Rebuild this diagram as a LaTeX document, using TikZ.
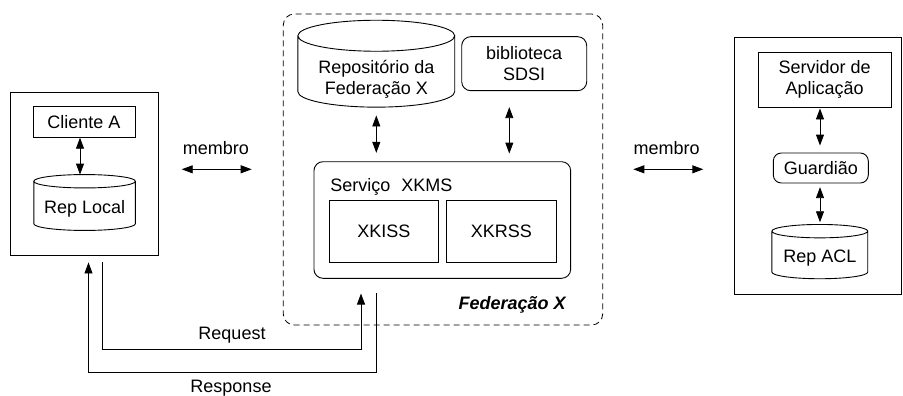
\documentclass[tikz,border=0pt]{standalone}
\usepackage{fontspec}
\setmainfont{Liberation Sans}
\usetikzlibrary{arrows.meta,calc}

% cylinder outline around a node that covers the visible body
% #1 node name, #2 half height of the end ellipses (pt)
\newcommand\cylout[2]{%
  \draw let \p1=(#1.north west), \p2=(#1.south east), \n1={(\x2-\x1)/2} in
    (\x1,\y1+#2pt) -- (\x1,\y2+#2pt)
    arc[start angle=180, end angle=360, x radius=\n1, y radius=#2pt]
    -- (\x2,\y1+#2pt)
    (\x1+\n1,\y1+#2pt) ellipse[x radius=\n1, y radius=#2pt];}

\begin{document}
\begin{tikzpicture}[x=1pt,y=1pt,
  line width=0.9pt,
  every node/.style={font=\fontsize{18}{21}\selectfont, inner sep=0pt},
  box/.style={draw, rectangle},
  rbox/.style={draw, rectangle, rounded corners=9pt},
  cylbody/.style={rectangle, align=center},
  tip/.style={-{Triangle[length=11pt,width=8pt]}},
  dtip/.style={{Triangle[length=11pt,width=8pt]}-{Triangle[length=11pt,width=8pt]}},
  fed/.style={draw, dash pattern=on 6pt off 4pt, rounded corners=11pt, line width=0.8pt}]
\useasboundingbox (0,0) rectangle (903,-396);

% ---- client side ----
\node[box, minimum width=148, minimum height=163] (lbox) at (84,-173.5) {};
\node[box, minimum width=102, minimum height=30.5] (cli) at (84,-122) {Cliente A};
\node[cylbody, minimum width=100.7, minimum height=41.6] (rlocal) at (84.6,-209.2) {Rep Local};
\cylout{rlocal}{6.7}
\draw[dtip] ([xshift=-4]cli.south) -- ([xshift=-4.6,yshift=13.4]rlocal.north);

% ---- membro (left) ----
\node (mem1) at (216,-148) {membro};
\coordinate (m1a) at (181.7,-169.3);
\coordinate (m1b) at (251.7,-169.3);
\draw[dtip] (m1a) -- (m1b);

% ---- federation ----
\node[fed, minimum width=319.4, minimum height=311] (fedbox) at (443,-169.5) {};
\node[cylbody, minimum width=156, minimum height=55] (repfed) at (376.3,-79.2)
  {Repositório da\\Federação X};
\cylout{repfed}{15.5}
\node[rbox, minimum width=125, minimum height=54, align=center] (sdsi) at (524.2,-63.7)
  {biblioteca\\SDSI};
\node[rbox, minimum width=256.7, minimum height=116.6] (xkms) at (442.3,-220) {};
\node[anchor=west] (xkmslbl) at (330,-186.7) {Serviço\hspace{11pt}XKMS};
\node[box, minimum width=109, minimum height=62] (xkiss) at (383.8,-231.7) {XKISS};
\node[box, minimum width=109.3, minimum height=62] (xkrss) at (501.3,-231.7) {XKRSS};
\node[anchor=east, font=\fontsize{18}{21}\selectfont\bfseries\itshape] (fedlbl) at (566,-305) {Federação X};

\draw[dtip] ([yshift=-8.3]repfed.south) -- ([yshift=8.4]xkms.north -| repfed.south);
\draw[dtip] ([xshift=-14.9,yshift=-16]sdsi.south) -- ([yshift=7.7]xkms.north -| 509.3,0);

% ---- request / response ----
\coordinate (reqout) at ([xshift=18.5,yshift=-7]lbox.south);
\coordinate (resin) at ([xshift=4.5,yshift=-7]lbox.south);
\coordinate (reqin) at (361,-293.5);
\coordinate (resout) at (376.7,-293.3);
\draw[tip] (reqout) -- (reqout |- 0,-349) -- (reqin |- 0,-349) -- (reqin);
\draw[tip] (resout) -- (resout |- 0,-372) -- (resin |- 0,-372) -- (resin);
\node (reqlbl) at (232,-335) {Request};
\node (reslbl) at (231,-388) {Response};

% ---- membro (right) ----
\node (mem2) at (666.7,-148.3) {membro};
\coordinate (m2a) at (633.3,-169.3);
\coordinate (m2b) at (703.3,-169.3);
\draw[dtip] (m2a) -- (m2b);

% ---- application server side ----
\node[box, minimum width=166.7, minimum height=257.3] (rbox) at (817.6,-165.7) {};
\node[box, minimum width=132.7, minimum height=55, align=center] (serv) at (824.7,-79.8)
  {Servidor de\\Aplicação};
\node[rbox, rounded corners=8pt, minimum width=95, minimum height=30] (guard) at (820.8,-168)
  {Guardião};
\node[cylbody, minimum width=95, minimum height=40] (racl) at (819.8,-258.3) {Rep ACL};
\cylout{racl}{6.7}
\draw[dtip] ([xshift=-4.7,yshift=-0.7]serv.south) -- ([xshift=-0.8,yshift=7]guard.north);
\draw[dtip] ([xshift=-0.8,yshift=-3.7]guard.south) -- ([yshift=15.6]racl.north -| 820,0);
\end{tikzpicture}
\end{document}
